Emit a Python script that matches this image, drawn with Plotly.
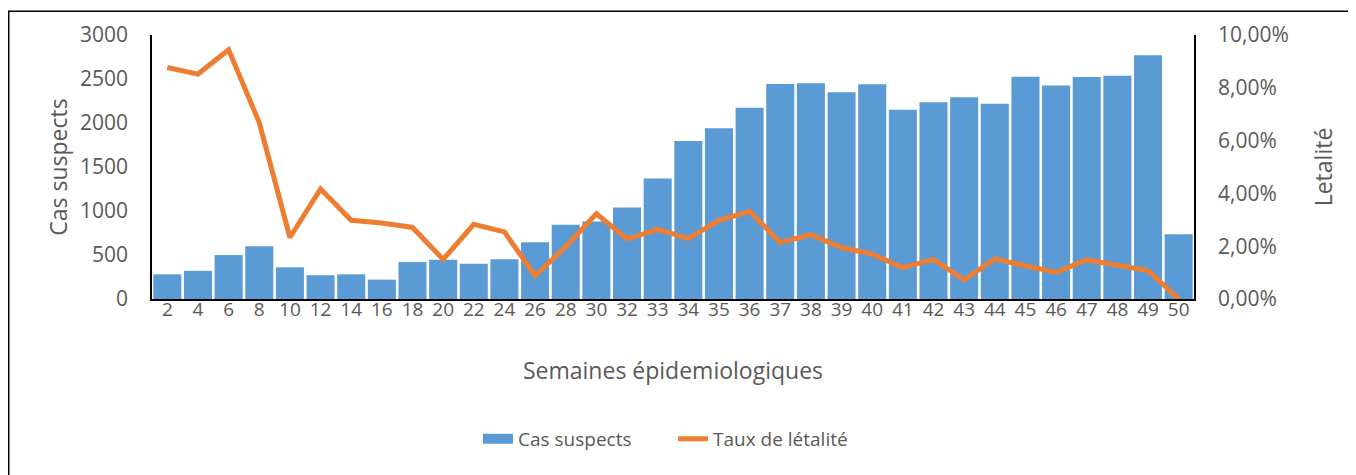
import plotly.graph_objects as go

weeks = ["2", "4", "6", "8", "10", "12", "14", "16", "18", "20", "22", "24", "26", "28", "30", "32",
         "33", "34", "35", "36", "37", "38", "39", "40", "41", "42", "43", "44", "45", "46", "47", "48", "49", "50"]
cas_suspects = [280, 320, 500, 600, 360, 270, 280, 220, 420, 445, 400, 452, 645, 845, 880, 1040,
                1368, 1795, 1940, 2172, 2443, 2452, 2350, 2440, 2150, 2237, 2293, 2218, 2526, 2425, 2522, 2537, 2770, 735]
taux_letalite = [0.0877, 0.0852, 0.0944, 0.0668, 0.0233, 0.0417, 0.0298, 0.0288, 0.0271, 0.0150, 0.0283, 0.0254,
                 0.0088, 0.0198, 0.0323, 0.0227, 0.0264, 0.0229, 0.0298, 0.0332, 0.0214, 0.0244, 0.0195, 0.0170,
                 0.0119, 0.0150, 0.0073, 0.0152, 0.0126, 0.0101, 0.0148, 0.0129, 0.0108, 0.0]

FONT = "Open Sans"
GREY = "#595959"
BLUE = "#5B9BD5"
ORANGE = "#ED7D31"

fig = go.Figure()
fig.add_trace(go.Bar(x=weeks, y=cas_suspects, name="Cas suspects", showlegend=False,
                     marker=dict(color=BLUE, line=dict(width=0)), yaxis="y"))
# legend-only entry giving a wide rectangle swatch like the original
fig.add_trace(go.Scatter(x=[None], y=[None], name="Cas suspects", mode="lines",
                         line=dict(color=BLUE, width=11), yaxis="y"))
fig.add_trace(go.Scatter(x=weeks, y=taux_letalite, name="Taux de létalité", mode="lines",
                         line=dict(color=ORANGE, width=5), yaxis="y2"))

fig.update_layout(
    width=1348, height=467,
    margin=dict(l=144, r=162, t=25, b=176),
    paper_bgcolor="white", plot_bgcolor="white",
    separators=",.",
    bargap=0.085,
    font=dict(family=FONT, color=GREY, size=21),
    showlegend=True,
    legend=dict(orientation="h", x=0.5, xanchor="center", y=-0.53, yanchor="middle",
                font=dict(size=19, color=GREY), itemwidth=30, traceorder="normal",
                entrywidth=150, entrywidthmode="pixels"),
    xaxis=dict(type="category", showgrid=False, showline=True, linecolor="black", linewidth=1.5,
               ticks="", tickfont=dict(size=19, color=GREY), ticklabelstandoff=-8,
               title=dict(text="Semaines épidemiologiques", font=dict(size=23, color=GREY), standoff=42)),
    yaxis=dict(range=[0, 3000], dtick=500, showgrid=False, zeroline=False, showline=True,
               linecolor="black", linewidth=1.5, ticks="", ticklabelstandoff=18,
               tickfont=dict(size=21, color=GREY),
               title=dict(text="Cas suspects", font=dict(size=23, color=GREY), standoff=6)),
    yaxis2=dict(range=[0, 0.1], dtick=0.02, tickformat=".2%", overlaying="y", side="right",
                showgrid=False, zeroline=False, showline=True, linecolor="black", linewidth=1.5,
                ticks="", ticklabelstandoff=18, tickfont=dict(size=21, color=GREY),
                title=dict(text="Letalité", font=dict(size=23, color=GREY), standoff=28)),
    shapes=[dict(type="rect", xref="paper", yref="paper", x0=-0.1375, x1=1.2, y0=-0.8, y1=1.09,
                 line=dict(color="black", width=1.5), fillcolor="rgba(0,0,0,0)", layer="below")],
)

fig.write_html("out.html")
